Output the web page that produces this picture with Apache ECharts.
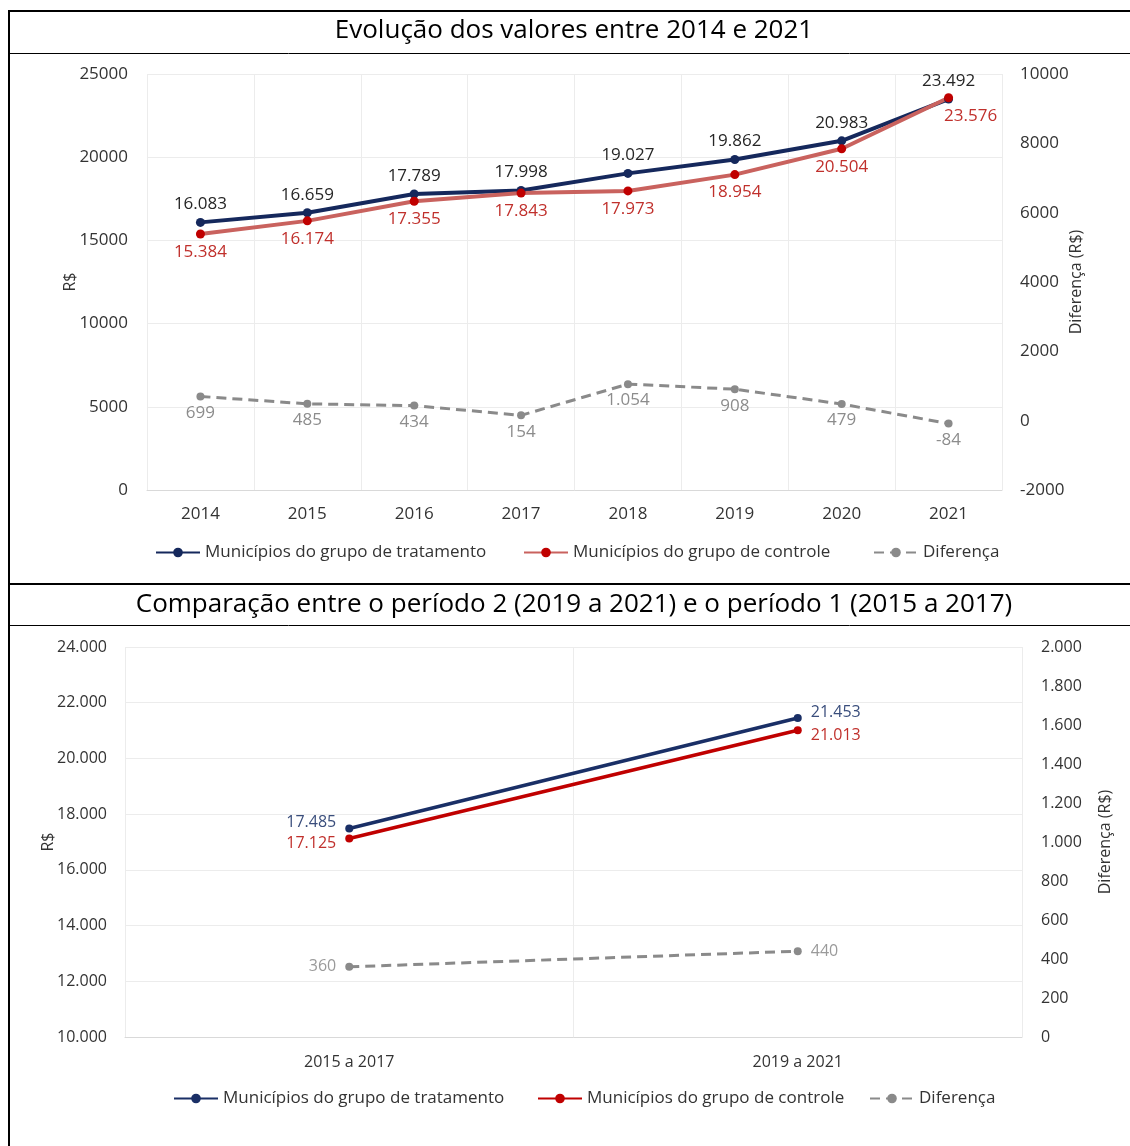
<!DOCTYPE html>
<html>
<head>
<meta charset="utf-8">
<script src="https://cdn.jsdelivr.net/npm/echarts@6/dist/echarts.min.js"></script>
<style>
  html, body { margin: 0; padding: 0; background: #ffffff; }
  #c1 { position: absolute; left: 0; top: 0; width: 1130px; height: 583px; }
  #c2 { position: absolute; left: 0; top: 583px; width: 1130px; height: 563px; }
</style>
</head>
<body>
<div id="c1"></div>
<div id="c2"></div>
<script>
// Evolução anual 2014–2021
const anos = ['2014', '2015', '2016', '2017', '2018', '2019', '2020', '2021'];
const tratamentoAnual = [16083, 16659, 17789, 17998, 19027, 19862, 20983, 23492];
const controleAnual = [15384, 16174, 17355, 17843, 17973, 18954, 20504, 23576];
const diferencaAnual = [699, 485, 434, 154, 1054, 908, 479, -84];

// Comparação entre períodos
const periodos = ['2015 a 2017', '2019 a 2021'];
const tratamentoPeriodo = [17485, 21453];
const controlePeriodo = [17125, 21013];
const diferencaPeriodo = [360, 440];

const nomes = ['Municípios do grupo de tratamento', 'Municípios do grupo de controle', 'Diferença'];

const FONT = 'Open Sans';
const AXIS_TXT = '#333333';
const fmtBR = v => String(v).replace(/\B(?=(\d{3})+(?!\d))/g, '.');
const fmtPlain = v => String(v);

function bordas(lines) {
  return lines.map(l => ({
    type: 'line',
    shape: { x1: l[0], y1: l[1], x2: l[2], y2: l[3] },
    style: { stroke: '#000000', lineWidth: l[4] },
    silent: true
  }));
}
function titulo(text, y) {
  return {
    type: 'text', x: 574, y: y,
    style: {
      text: text, fill: '#000000', font: '26px "' + FONT + '"',
      textAlign: 'center', textVerticalAlign: 'middle'
    }
  };
}
function legendas(positions, top) {
  return positions.map((x, i) => ({
    data: [nomes[i]], left: x, top: top, itemWidth: 44, itemHeight: 12,
    textStyle: { fontFamily: FONT, fontSize: 17, color: '#333333' },
    selectedMode: false
  }));
}
function nomeEixo(text, gap) {
  return {
    name: text, nameLocation: 'middle', nameGap: gap, nameMoveOverlap: false,
    nameTextStyle: { fontSize: 16, color: AXIS_TXT }
  };
}

// ---------- Gráfico 1 ----------
const chart1 = echarts.init(document.getElementById('c1'));
const ultimo = controleAnual.length - 1;
chart1.setOption({
  animation: false,
  textStyle: { fontFamily: FONT },
  graphic: [
    ...bordas([[8, 11, 1130, 11, 2], [8, 53.5, 1130, 53.5, 1], [9, 10, 9, 583, 2]]),
    titulo('Evolução dos valores entre 2014 e 2021', 31)
  ],
  legend: legendas([150, 518, 868], 539),
  grid: { left: 147, right: 128, top: 74, height: 416 },
  xAxis: {
    type: 'category', data: anos, boundaryGap: true,
    axisLine: { lineStyle: { color: '#d9d9d9' } },
    axisTick: { show: false },
    axisLabel: { fontSize: 17, color: AXIS_TXT, margin: 16 },
    splitLine: { show: true, lineStyle: { color: '#ececec' } }
  },
  yAxis: [Object.assign(nomeEixo('R$', 69), {
    type: 'value', min: 0, max: 25000, interval: 5000,
    axisLine: { show: false }, axisTick: { show: false },
    axisLabel: { fontSize: 17, color: AXIS_TXT, margin: 19, formatter: fmtPlain },
    splitLine: { lineStyle: { color: '#ececec' } }
  }), Object.assign(nomeEixo('Diferença (R$)', 66), {
    type: 'value', min: -2000, max: 10000, interval: 2000,
    axisLine: { show: false }, axisTick: { show: false },
    axisLabel: { fontSize: 17, color: AXIS_TXT, margin: 18, formatter: fmtPlain },
    splitLine: { show: false }
  })],
  series: [{
    name: nomes[0], type: 'line', data: tratamentoAnual,
    symbol: 'circle', symbolSize: 9,
    lineStyle: { color: '#15285c', width: 4 },
    itemStyle: { color: '#15285c' },
    label: { show: true, position: 'top', distance: 5, fontSize: 17, color: '#262626', formatter: p => fmtBR(p.value) }
  }, {
    name: nomes[1], type: 'line',
    data: controleAnual.map((v, i) => i === ultimo ? { value: v, label: { offset: [22, 0] } } : v),
    symbol: 'circle', symbolSize: 9,
    lineStyle: { color: '#c9625e', width: 4 },
    itemStyle: { color: '#c00000' },
    label: { show: true, position: 'bottom', distance: 5, fontSize: 17, color: '#c0302c', formatter: p => fmtBR(p.value) }
  }, {
    name: nomes[2], type: 'line', yAxisIndex: 1, data: diferencaAnual,
    symbol: 'circle', symbolSize: 8,
    lineStyle: { color: '#8a8a8a', width: 3, type: [10, 6] },
    itemStyle: { color: '#8a8a8a' },
    label: { show: true, position: 'bottom', distance: 4, fontSize: 17, color: '#8c8c8c', formatter: p => fmtBR(p.value) }
  }]
});

// ---------- Gráfico 2 ----------
const chart2 = echarts.init(document.getElementById('c2'));
chart2.setOption({
  animation: false,
  textStyle: { fontFamily: FONT },
  graphic: [
    ...bordas([[8, 1, 1130, 1, 2], [8, 42.5, 1130, 42.5, 1], [9, 0, 9, 563, 2]]),
    titulo('Comparação entre o período 2 (2019 a 2021) e o período 1 (2015 a 2017)', 22)
  ],
  legend: legendas([168, 532, 864], 502),
  grid: { left: 125, right: 108, top: 64, height: 390 },
  xAxis: {
    type: 'category', data: periodos, boundaryGap: true,
    axisLine: { lineStyle: { color: '#d9d9d9' } },
    axisTick: { show: false },
    axisLabel: { fontSize: 16, color: AXIS_TXT, margin: 17 },
    splitLine: { show: true, lineStyle: { color: '#ececec' } }
  },
  yAxis: [Object.assign(nomeEixo('R$', 69), {
    type: 'value', min: 10000, max: 24000, interval: 2000,
    axisLine: { show: false }, axisTick: { show: false },
    axisLabel: { fontSize: 16, color: AXIS_TXT, margin: 18, formatter: fmtBR },
    splitLine: { lineStyle: { color: '#ececec' } }
  }), Object.assign(nomeEixo('Diferença (R$)', 75), {
    type: 'value', min: 0, max: 2000, interval: 200,
    axisLine: { show: false }, axisTick: { show: false },
    axisLabel: { fontSize: 16, color: AXIS_TXT, margin: 19, formatter: fmtBR },
    splitLine: { show: false }
  })],
  series: [{
    name: nomes[0], type: 'line', symbol: 'circle', symbolSize: 8,
    data: tratamentoPeriodo.map((v, i) => ({ value: v, label: { position: i === 0 ? 'left' : 'right', offset: [0, -6] } })),
    lineStyle: { color: '#1a2f66', width: 3.5 },
    itemStyle: { color: '#1a2f66' },
    label: { show: true, distance: 9, fontSize: 16, color: '#3a4e7c', formatter: p => fmtBR(p.value) }
  }, {
    name: nomes[1], type: 'line', symbol: 'circle', symbolSize: 8,
    data: controlePeriodo.map((v, i) => ({ value: v, label: { position: i === 0 ? 'left' : 'right', offset: [0, 5] } })),
    lineStyle: { color: '#c00000', width: 3.5 },
    itemStyle: { color: '#c00000' },
    label: { show: true, distance: 9, fontSize: 16, color: '#c0302c', formatter: p => fmtBR(p.value) }
  }, {
    name: nomes[2], type: 'line', yAxisIndex: 1, symbol: 'circle', symbolSize: 8,
    data: diferencaPeriodo.map((v, i) => ({ value: v, label: { position: i === 0 ? 'left' : 'right' } })),
    lineStyle: { color: '#8a8a8a', width: 3, type: [10, 6] },
    itemStyle: { color: '#8a8a8a' },
    label: { show: true, distance: 9, fontSize: 16, color: '#9a9a9a', formatter: p => fmtBR(p.value) }
  }]
});
</script>
</body>
</html>
